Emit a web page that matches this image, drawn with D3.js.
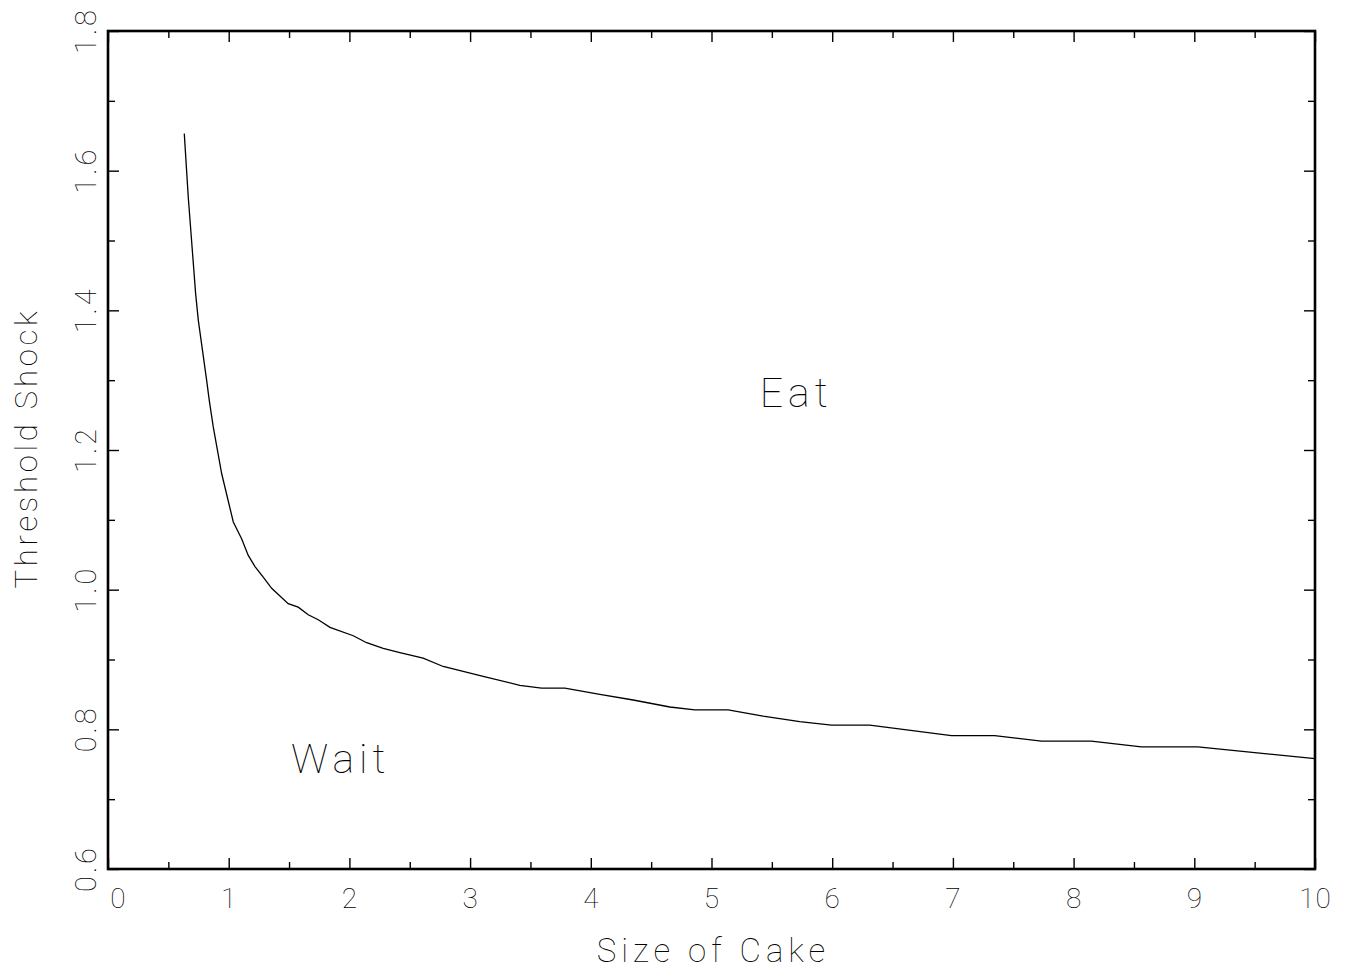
<!DOCTYPE html>
<html>
<head>
<meta charset="utf-8">
<script src="https://cdn.jsdelivr.net/npm/d3@7"></script>
<style>
  html, body { margin: 0; padding: 0; background: #fff; }
  svg { display: block; }
  text { font-family: Roboto, "DejaVu Sans", sans-serif; font-weight: 100; fill: #000; }
</style>
</head>
<body>
<svg id="chart" width="1354" height="974"></svg>
<script>
// Threshold curve: size of cake vs. threshold shock
const sizeOfCake = [0.632, 0.665, 0.726, 0.748, 0.817, 0.839, 0.872, 0.942, 1.038, 1.107,
  1.162, 1.218, 1.286, 1.356, 1.493, 1.576, 1.659, 1.742, 1.839, 2.032, 2.143, 2.280,
  2.418, 2.611, 2.777, 3.108, 3.412, 3.592, 3.785, 4.075, 4.351, 4.655, 4.862, 5.138,
  5.427, 5.731, 5.994, 6.311, 6.988, 7.346, 7.733, 8.147, 8.561, 9.030, 10.0];
const thresholdShock = [1.653, 1.562, 1.424, 1.386, 1.300, 1.271, 1.233, 1.166, 1.097, 1.073,
  1.049, 1.033, 1.018, 1.002, 0.980, 0.975, 0.964, 0.957, 0.946, 0.934, 0.924, 0.916,
  0.910, 0.902, 0.890, 0.876, 0.863, 0.859, 0.859, 0.850, 0.842, 0.832, 0.828, 0.828,
  0.819, 0.811, 0.806, 0.806, 0.791, 0.791, 0.783, 0.783, 0.775, 0.775, 0.758];

const xMajorTicks = [0, 1, 2, 3, 4, 5, 6, 7, 8, 9, 10];
const xMinorTicks = [0.5, 1.5, 2.5, 3.5, 4.5, 5.5, 6.5, 7.5, 8.5, 9.5];
const yMajorTicks = [0.6, 0.8, 1.0, 1.2, 1.4, 1.6, 1.8];
const yMinorTicks = [0.7, 0.9, 1.1, 1.3, 1.5, 1.7];
const yTickLabels = ["0.6", "0.8", "1.0", "1.2", "1.4", "1.6", "1.8"];

const regionLabels = ["Eat", "Wait"];
const regionX = [5.4, 1.516];
const regionY = [1.261, 0.737];

const svg = d3.select("#chart");
const plotL = 108, plotR = 1315, plotT = 31, plotB = 869;

const x = d3.scaleLinear().domain([0, 10]).range([plotL, plotR]);
const y = d3.scaleLinear().domain([0.6, 1.8]).range([plotB, plotT]);

const MAJ = 11, MIN = 7;

function styleAxis(g) {
  g.select(".domain").remove();
  g.selectAll(".tick line").attr("stroke", "#000").attr("stroke-width", 1.4);
}

// bottom: major ticks with labels
const gxb = svg.append("g").attr("transform", `translate(0,${plotB})`)
  .call(d3.axisBottom(x).tickValues(xMajorTicks).tickSizeInner(-MAJ).tickSizeOuter(0)
    .tickFormat(d3.format("d")))
  .call(styleAxis);
gxb.attr("font-family", null).attr("font-size", null);
gxb.selectAll(".tick text")
  .attr("y", 39).attr("dy", 0)
  .attr("font-size", 28)
  .attr("letter-spacing", 1)
  .attr("dx", d => d === 0 ? 10 : 0);
svg.append("g").attr("transform", `translate(0,${plotB})`)
  .call(d3.axisBottom(x).tickValues(xMinorTicks).tickSizeInner(-MIN).tickSizeOuter(0).tickFormat(""))
  .call(styleAxis);

// top: ticks only
svg.append("g").attr("transform", `translate(0,${plotT})`)
  .call(d3.axisTop(x).tickValues(xMajorTicks).tickSizeInner(-MAJ).tickSizeOuter(0).tickFormat(""))
  .call(styleAxis);
svg.append("g").attr("transform", `translate(0,${plotT})`)
  .call(d3.axisTop(x).tickValues(xMinorTicks).tickSizeInner(-MIN).tickSizeOuter(0).tickFormat(""))
  .call(styleAxis);

// left: major ticks with rotated labels
const gyl = svg.append("g").attr("transform", `translate(${plotL},0)`)
  .call(d3.axisLeft(y).tickValues(yMajorTicks).tickSizeInner(-MAJ).tickSizeOuter(0)
    .tickFormat((d, i) => yTickLabels[i]))
  .call(styleAxis);
gyl.attr("font-family", null).attr("font-size", null);
gyl.selectAll(".tick text")
  .attr("transform", "rotate(-90)")
  .attr("x", 1).attr("y", -12).attr("dy", 0)
  .attr("text-anchor", "middle")
  .attr("font-size", 29)
  .attr("letter-spacing", 3);
svg.append("g").attr("transform", `translate(${plotL},0)`)
  .call(d3.axisLeft(y).tickValues(yMinorTicks).tickSizeInner(-MIN).tickSizeOuter(0).tickFormat(""))
  .call(styleAxis);

// right: ticks only
svg.append("g").attr("transform", `translate(${plotR},0)`)
  .call(d3.axisRight(y).tickValues(yMajorTicks).tickSizeInner(-MAJ).tickSizeOuter(0).tickFormat(""))
  .call(styleAxis);
svg.append("g").attr("transform", `translate(${plotR},0)`)
  .call(d3.axisRight(y).tickValues(yMinorTicks).tickSizeInner(-MIN).tickSizeOuter(0).tickFormat(""))
  .call(styleAxis);

// frame
svg.append("rect")
  .attr("x", plotL).attr("y", plotT)
  .attr("width", plotR - plotL).attr("height", plotB - plotT)
  .attr("fill", "none").attr("stroke", "#000").attr("stroke-width", 2.6);

// threshold curve
const pts = sizeOfCake.map((v, i) => [v, thresholdShock[i]]);
svg.append("path")
  .datum(pts)
  .attr("fill", "none")
  .attr("stroke", "#000")
  .attr("stroke-width", 1.3)
  .attr("d", d3.line().x(d => x(d[0])).y(d => y(d[1])));

// region labels
svg.selectAll("text.region")
  .data(regionLabels)
  .join("text")
  .attr("class", "region")
  .attr("x", (d, i) => x(regionX[i]))
  .attr("y", (d, i) => y(regionY[i]))
  .attr("font-size", 41)
  .attr("letter-spacing", 5)
  .text(d => d);

// axis titles
svg.append("text")
  .attr("x", (plotL + plotR) / 2 + 2).attr("y", 962)
  .attr("text-anchor", "middle")
  .attr("font-size", 33)
  .attr("letter-spacing", 5)
  .text("Size of Cake");

svg.append("text")
  .attr("transform", `translate(37,${(plotT + plotB) / 2 - 2}) rotate(-90)`)
  .attr("text-anchor", "middle")
  .attr("font-size", 31)
  .attr("letter-spacing", 3.8)
  .text("Threshold Shock");
</script>
</body>
</html>
